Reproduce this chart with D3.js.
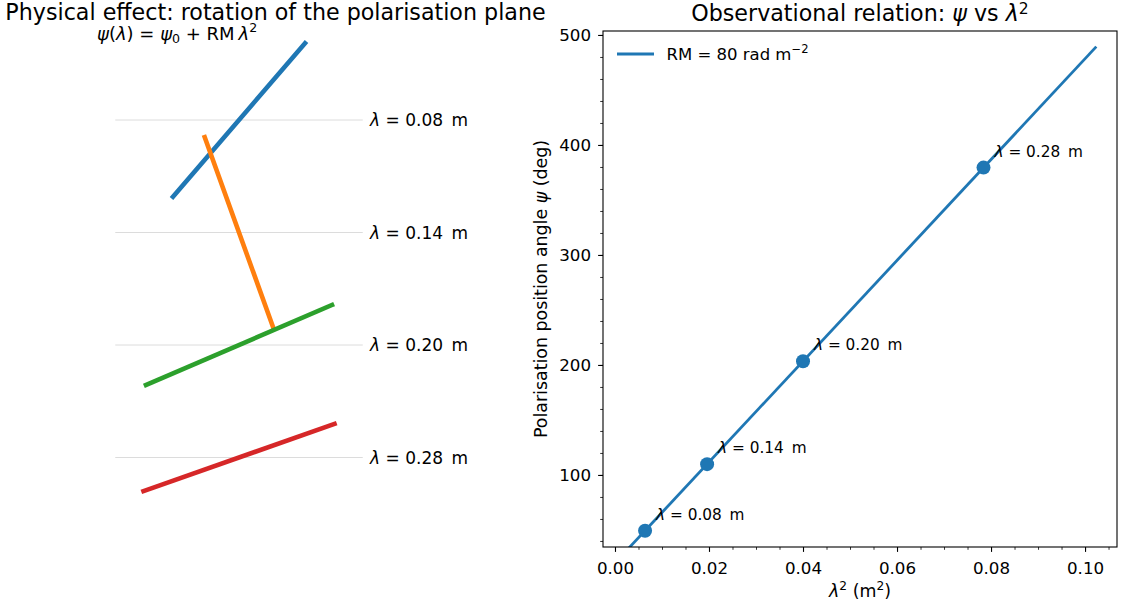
<!DOCTYPE html>
<html>
<head>
<meta charset="utf-8">
<script src="https://cdn.jsdelivr.net/npm/d3@7"></script>
<style>
  body { margin: 0; background: #fff; }
  svg { display: block; font-family: "DejaVu Sans", sans-serif; }
</style>
</head>
<body>
<svg id="fig" width="1121" height="608"></svg>
<script>
// Observing wavelengths (m), their squares (m^2) and the measured polarisation angles (deg)
const wavelengths = [0.08, 0.14, 0.20, 0.28];
const lambdaSq = [0.0064, 0.0196, 0.04, 0.0784];
const psiDeg = [49.3, 109.8, 203.3, 379.4];
// End points of the straight Faraday-rotation relation psi = psi0 + RM lambda^2
const fitLambdaSq = [0.0025, 0.1024];
const fitPsi = [31.5, 489.4];
const rotationMeasure = 80;
const barColors = ["#1f77b4", "#ff7f0e", "#2ca02c", "#d62728"];
const xTickValues = [0, 0.02, 0.04, 0.06, 0.08, 0.10];
const yTickValues = [100, 200, 300, 400, 500];

const svg = d3.select("#fig");
const blue = "#1f77b4";

// Write a run of text pieces (italic / superscript / subscript / extra gap) into a <text>
function rich(textSel, parts, fs, supRise = 0.4) {
  let shift = 0;
  parts.forEach(p => {
    const target = p.sup ? -supRise * fs : (p.sub ? 0.22 * fs : 0);
    const ts = textSel.append("tspan")
      .text(p.t)
      .attr("font-size", (p.sup || p.sub) ? fs * 0.7 : fs)
      .attr("font-style", p.i ? "italic" : "normal")
      .attr("dy", target - shift);
    if (p.dx) ts.attr("dx", p.dx);
    shift = target;
  });
  return textSel;
}

// ---------------- Left panel: rotating polarisation vectors ----------------
const unit = 112.5;
const xL = d3.scaleLinear().domain([-1, 1]).range([239 - unit, 239 + unit]);
const yL = d3.scaleLinear().domain([0, -3]).range([120, 120 + 3 * unit]);
const halfLen = 0.9;

const left = svg.append("g");

left.append("text")
  .attr("x", 275.5).attr("y", 20)
  .attr("text-anchor", "middle")
  .attr("font-size", 22.2)
  .text("Physical effect: rotation of the polarisation plane");

rich(left.append("text")
  .attr("x", xL(-0.55)).attr("y", 39.5)
  .attr("text-anchor", "middle"),
  [{t: "ψ", i: true}, {t: "("}, {t: "λ", i: true}, {t: ") = "}, {t: "ψ", i: true},
   {t: "0", sub: true}, {t: " + RM"}, {t: "λ", i: true, dx: 4}, {t: "2", sup: true}], 18);

// reference lines, one per wavelength
left.selectAll("line.ref").data(wavelengths).join("line")
  .attr("class", "ref")
  .attr("x1", xL(-1.1)).attr("x2", xL(1.1))
  .attr("y1", (d, i) => yL(-i)).attr("y2", (d, i) => yL(-i))
  .attr("stroke", "#dcdcdc").attr("stroke-width", 1);

// polarisation vectors at angle psi
left.selectAll("line.vec").data(psiDeg).join("line")
  .attr("class", "vec")
  .attr("x1", d => xL(-halfLen * Math.cos(d * Math.PI / 180)))
  .attr("x2", d => xL(halfLen * Math.cos(d * Math.PI / 180)))
  .attr("y1", (d, i) => yL(-i - halfLen * Math.sin(d * Math.PI / 180)))
  .attr("y2", (d, i) => yL(-i + halfLen * Math.sin(d * Math.PI / 180)))
  .attr("stroke", (d, i) => barColors[i])
  .attr("stroke-width", 4.6)
  .attr("stroke-linecap", "square");

wavelengths.forEach((w, i) => {
  rich(left.append("text")
    .attr("x", xL(1.165)).attr("y", yL(-i) + 0.36 * 17),
    [{t: "λ", i: true}, {t: " = " + w.toFixed(2)}, {t: " m", dx: 3}], 17);
});

// ---------------- Right panel: psi versus lambda^2 ----------------
const plot = {left: 603, right: 1117, top: 31, bottom: 547};
const xR = d3.scaleLinear().domain([-0.00255, 0.1068]).range([plot.left, plot.right]);
const yR = d3.scaleLinear().domain([34.5, 503.6]).range([plot.bottom, plot.top]);

const right = svg.append("g");

right.append("defs").append("clipPath").attr("id", "plotClip")
  .append("rect")
  .attr("x", plot.left).attr("y", plot.top)
  .attr("width", plot.right - plot.left).attr("height", plot.bottom - plot.top);

rich(right.append("text")
  .attr("x", (plot.left + plot.right) / 2).attr("y", 21)
  .attr("text-anchor", "middle"),
  [{t: "Observational relation: "}, {t: "ψ", i: true}, {t: " vs "}, {t: "λ", i: true}, {t: "2", sup: true}], 22.2, 0.33);

// fit line
const lineData = fitLambdaSq.map((x, i) => [x, fitPsi[i]]);
right.append("path")
  .datum(lineData)
  .attr("clip-path", "url(#plotClip)")
  .attr("d", d3.line().x(d => xR(d[0])).y(d => yR(d[1])))
  .attr("fill", "none")
  .attr("stroke", blue)
  .attr("stroke-width", 2.8);

// measured points
right.selectAll("circle.pt").data(lambdaSq).join("circle")
  .attr("class", "pt")
  .attr("cx", d => xR(d))
  .attr("cy", (d, i) => yR(psiDeg[i]))
  .attr("r", 7)
  .attr("fill", blue);

lambdaSq.forEach((l2, i) => {
  rich(right.append("text")
    .attr("x", xR(l2) + 11).attr("y", yR(psiDeg[i]) - 11),
    [{t: "λ", i: true}, {t: " = " + wavelengths[i].toFixed(2)}, {t: " m", dx: 3}], 15.3);
});

// axes
function styleAxis(g) {
  g.select(".domain").remove();
  g.selectAll(".tick line").attr("stroke", "#000").attr("stroke-width", 1.1);
  g.selectAll(".tick text").attr("font-size", 16.7).attr("fill", "#000")
    .attr("font-family", "DejaVu Sans, sans-serif");
}

const xAxis = right.append("g")
  .attr("transform", `translate(0,${plot.bottom})`)
  .call(d3.axisBottom(xR).tickValues(xTickValues).tickFormat(d3.format(".2f"))
    .tickSize(4.9).tickPadding(10));
styleAxis(xAxis);
xAxis.selectAll(".tick text").attr("dy", "0.71em");

const xMinor = d3.range(-0.005, 0.1075, 0.005).filter(v => xR(v) >= plot.left && xR(v) <= plot.right);
const xAxisMinor = right.append("g")
  .attr("transform", `translate(0,${plot.bottom})`)
  .call(d3.axisBottom(xR).tickValues(xMinor).tickFormat("").tickSize(2.8));
styleAxis(xAxisMinor);
xAxisMinor.selectAll(".tick line").attr("stroke-width", 0.8);

const yAxis = right.append("g")
  .attr("transform", `translate(${plot.left},0)`)
  .call(d3.axisLeft(yR).tickValues(yTickValues).tickSize(4.9).tickPadding(7));
styleAxis(yAxis);

const yMinor = d3.range(40, 504, 20).filter(v => yR(v) >= plot.top && yR(v) <= plot.bottom);
const yAxisMinor = right.append("g")
  .attr("transform", `translate(${plot.left},0)`)
  .call(d3.axisLeft(yR).tickValues(yMinor).tickFormat("").tickSize(2.8));
styleAxis(yAxisMinor);
yAxisMinor.selectAll(".tick line").attr("stroke-width", 0.8);

// frame
right.append("rect")
  .attr("x", plot.left).attr("y", plot.top)
  .attr("width", plot.right - plot.left).attr("height", plot.bottom - plot.top)
  .attr("fill", "none").attr("stroke", "#000").attr("stroke-width", 1.1);

// axis labels
rich(right.append("text")
  .attr("x", (plot.left + plot.right) / 2).attr("y", 597)
  .attr("text-anchor", "middle"),
  [{t: "λ", i: true}, {t: "2", sup: true}, {t: " (m"}, {t: "2", sup: true}, {t: ")"}], 17.4);

rich(right.append("text")
  .attr("transform", `translate(547,${(plot.top + plot.bottom) / 2}) rotate(-90)`)
  .attr("text-anchor", "middle"),
  [{t: "Polarisation position angle "}, {t: "ψ", i: true}, {t: " (deg)"}], 17.4);

// legend
const legend = right.append("g");
legend.append("line")
  .attr("x1", 617).attr("x2", 654).attr("y1", 54).attr("y2", 54)
  .attr("stroke", blue).attr("stroke-width", 2.8);
rich(legend.append("text").attr("x", 666.5).attr("y", 59.5),
  [{t: "RM = " + rotationMeasure + " rad m"}, {t: "−2", sup: true}], 16.5);
</script>
</body>
</html>
